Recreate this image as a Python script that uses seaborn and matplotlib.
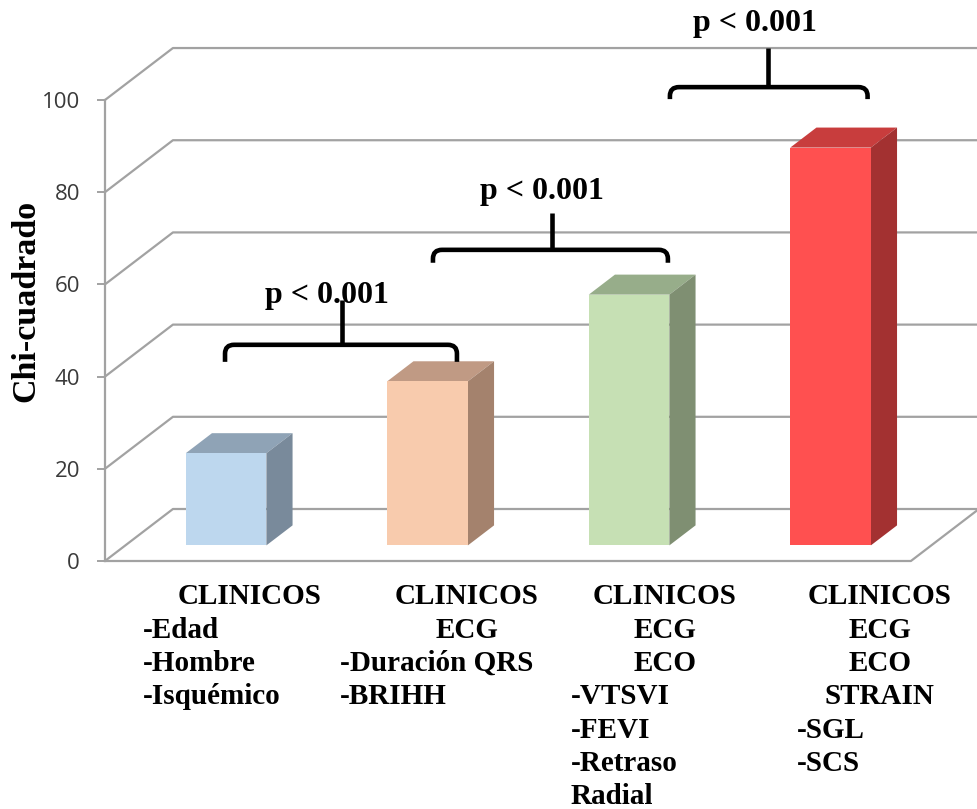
import matplotlib
matplotlib.use("Agg")
import matplotlib.pyplot as plt
from matplotlib.patches import Polygon, PathPatch
from matplotlib.path import Path
import seaborn as sns

# ---- data -----------------------------------------------------------------
groups = ["Clínicos", "Clínicos + ECG", "Clínicos + ECG + ECO",
          "Clínicos + ECG + ECO + Strain"]
chi2 = [20.0, 35.6, 54.4, 86.3]
y_ticks = [0, 20, 40, 60, 80, 100]

front_colors = ["#BDD7EE", "#F8CBAD", "#C6E0B4", "#FF5050"]
top_colors = ["#8FA3B6", "#C09A84", "#97AD8A", "#C83D3D"]
side_colors = ["#798A9B", "#A4826D", "#7F8F72", "#A33131"]

header_lines = [["CLINICOS"],
                ["CLINICOS", "ECG"],
                ["CLINICOS", "ECG", "ECO"],
                ["CLINICOS", "ECG", "ECO", "STRAIN"]]
item_lines = [["-Edad", "-Hombre", "-Isquémico"],
              ["-Duración QRS", "-BRIHH"],
              ["-VTSVI", "-FEVI", "-Retraso", "Radial"],
              ["-SGL", "-SCS"]]

p_labels = ["p < 0.001", "p < 0.001", "p < 0.001"]

# ---- 3D look (oblique projection, in data units) --------------------------
DX, DY = 0.3375, 11.28        # full depth of the floor / walls
F0, BD = 0.30, 0.385          # bar front depth and bar thickness (fractions)
GRID = "#a2a2a2"
SERIF = ["Liberation Serif", "DejaVu Serif"]

plt.rcParams["font.family"] = ["Open Sans", "DejaVu Sans"]

fig = plt.figure(figsize=(9.78, 8.09), dpi=100)
ax = fig.add_axes([0, 0, 1, 1])

# front faces of the bars
sns.barplot(x=groups, y=chi2, hue=groups, palette=front_colors, width=0.4,
            saturation=1, legend=False, linewidth=0, ax=ax, zorder=4)

x_lo, x_hi = -0.5, len(groups) - 0.5

# walls: gridlines on the side wall and back wall, plus the floor
for v in y_ticks:
    ax.plot([x_lo, x_lo + DX, x_hi + DX + 0.3], [v, v + DY, v + DY],
            color=GRID, lw=1.6, zorder=1, solid_capstyle="butt")
ax.plot([x_lo, x_hi, x_hi + DX], [0, 0, DY], color=GRID, lw=1.6, zorder=1)

# push bars back into the scene and add top and side faces
bars = sorted(ax.patches, key=lambda p: p.get_x())
for i, p in enumerate(bars):
    x0, w, h = p.get_x(), p.get_width(), p.get_height()
    x0 += F0 * DX
    y0 = F0 * DY
    p.set_x(x0)
    p.set_y(y0)
    bx, by = BD * DX, BD * DY
    top = Polygon([(x0, y0 + h), (x0 + w, y0 + h),
                   (x0 + w + bx, y0 + h + by), (x0 + bx, y0 + h + by)],
                  closed=True, facecolor=top_colors[i], edgecolor="none",
                  zorder=3)
    side = Polygon([(x0 + w, y0), (x0 + w + bx, y0 + by),
                    (x0 + w + bx, y0 + h + by), (x0 + w, y0 + h)],
                   closed=True, facecolor=side_colors[i], edgecolor="none",
                   zorder=3)
    ax.add_patch(top)
    ax.add_patch(side)

# significance brackets between consecutive models
bracket_left = [0.096, 1.128, 2.304]
bracket_right = [1.247, 2.294, 3.285]
bracket_stem = [0.675, 1.717, 2.791]
bracket_level = [46.9, 67.5, 102.8]
hook_drop = [3.7, 2.8, 2.6]
stem_top = [56.6, 75.6, 111.3]
label_x = [0.604, 1.669, 2.726]
label_y = [57.7, 80.1, 116.7]

rx, ry = 0.045, 1.9
for k in range(len(p_labels)):
    xl, xr, xs = bracket_left[k], bracket_right[k], bracket_stem[k]
    yh = bracket_level[k]
    yb = yh - hook_drop[k]
    verts = [(xl, yb), (xl, yh - ry), (xl, yh), (xl + rx, yh),
             (xr - rx, yh), (xr, yh), (xr, yh - ry), (xr, yb)]
    codes = [Path.MOVETO, Path.LINETO, Path.CURVE3, Path.CURVE3,
             Path.LINETO, Path.CURVE3, Path.CURVE3, Path.LINETO]
    ax.add_patch(PathPatch(Path(verts, codes), facecolor="none",
                           edgecolor="black", lw=3.3, zorder=6,
                           capstyle="butt", joinstyle="round"))
    ax.plot([xs, xs], [yh, stem_top[k]], color="black", lw=3.3, zorder=6,
            solid_capstyle="butt")
    ax.text(label_x[k], label_y[k], p_labels[k], ha="center", va="center",
            fontsize=23, fontweight="bold", family=SERIF, color="black",
            zorder=7)

# category descriptions under the floor
header_x = [0.22, 1.297, 2.279, 3.346]
item_x = [-0.312, 0.666, 1.813, 2.934]
first_line, line_step = -7.8, 7.22
for i in range(len(groups)):
    j = 0
    for line in header_lines[i]:
        ax.text(header_x[i], first_line - line_step * j, line, ha="center",
                va="center", fontsize=21, fontweight="bold", family=SERIF,
                color="black")
        j += 1
    for line in item_lines[i]:
        ax.text(item_x[i], first_line - line_step * j, line, ha="left",
                va="center", fontsize=21, fontweight="bold", family=SERIF,
                color="black")
        j += 1

# value axis on the front-left edge
for s in ["top", "right", "bottom"]:
    ax.spines[s].set_visible(False)
ax.spines["left"].set_position(("data", x_lo))
ax.spines["left"].set_bounds(0, 100)
ax.spines["left"].set_color(GRID)
ax.spines["left"].set_linewidth(1.6)
ax.set_yticks(y_ticks)
ax.set_xticks([])
ax.set_xlabel("")
ax.tick_params(axis="y", direction="out", length=6, width=1.4, color=GRID,
               labelsize=16, labelcolor="#3a3a3a", pad=12)
ax.set_ylabel("Chi-cuadrado", fontsize=24.5, fontweight="bold", family=SERIF,
              color="black", va="center")
ax.yaxis.set_label_coords(-0.893, 56.4, transform=ax.transData)

ax.set_xlim(-1.0208, 3.833)
ax.set_ylim(-53.8, 121.7)
ax.patch.set_visible(False)
fig.patch.set_facecolor("white")

fig.savefig("out.png", dpi=100, facecolor="white")
